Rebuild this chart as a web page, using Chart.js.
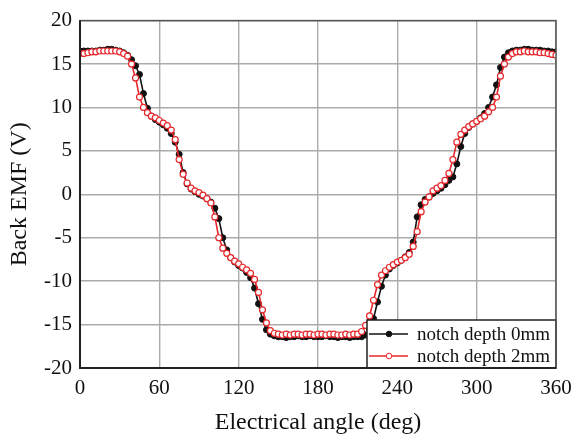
<!DOCTYPE html>
<html>
<head>
<meta charset="utf-8">
<title>Back EMF</title>
<script src="https://cdn.jsdelivr.net/npm/chart.js@4.4.1/dist/chart.umd.min.js"></script>
<style>
  html, body { margin: 0; padding: 0; background: #fff; }
  #wrap { width: 572px; height: 437px; }
</style>
</head>
<body>
<div id="wrap"><canvas id="myChart" width="572" height="437"></canvas></div>
<script>
// electrical angle samples (deg)
var angoli = [
  0, 3, 6, 9, 12, 15, 18, 21, 24, 27, 30, 33, 36, 39, 42, 45, 48, 51, 54, 57,
  60, 63, 66, 69, 72, 75, 78, 81, 84, 87, 90, 93, 96, 99, 102, 105, 108, 111, 114, 117,
  120, 123, 126, 129, 132, 135, 138, 141, 144, 147, 150, 153, 156, 159, 162, 165, 168, 171, 174, 177,
  180, 183, 186, 189, 192, 195, 198, 201, 204, 207, 210, 213, 216, 219, 222, 225, 228, 231, 234, 237,
  240, 243, 246, 249, 252, 255, 258, 261, 264, 267, 270, 273, 276, 279, 282, 285, 288, 291, 294, 297,
  300, 303, 306, 309, 312, 315, 318, 321, 324, 327, 330, 333, 336, 339, 342, 345, 348, 351, 354, 357,
  360
];

// back EMF, notch depth 0mm (V)
var emf0mm = [
  16.5, 16.5, 16.5, 16.5, 16.5, 16.6, 16.6, 16.7, 16.7, 16.6, 16.5, 16.3, 16.0, 15.5, 14.8, 13.8, 11.6, 9.9, 9.0, 8.6,
  8.3, 8.0, 7.6, 7.0, 6.0, 4.6, 2.5, 1.2, 0.6, 0.3, 0.0, -0.2, -0.5, -0.9, -1.6, -2.8, -5.0, -6.4, -7.3, -7.8,
  -8.2, -8.5, -9.0, -9.6, -10.8, -12.6, -14.4, -15.6, -16.1, -16.3, -16.4, -16.4, -16.5, -16.4, -16.4, -16.3, -16.4, -16.4, -16.3, -16.4,
  -16.4, -16.4, -16.3, -16.4, -16.4, -16.5, -16.4, -16.4, -16.5, -16.4, -16.4, -16.4, -16.2, -15.5, -14.3, -12.4, -10.6, -9.3, -8.6, -8.2,
  -7.9, -7.6, -7.2, -6.7, -5.5, -2.6, -1.2, -0.6, -0.3, 0.1, 0.4, 0.7, 1.1, 1.6, 2.0, 3.5, 5.5, 7.0, 7.7, 8.1,
  8.4, 8.8, 9.3, 10.0, 11.2, 12.6, 14.6, 15.8, 16.3, 16.5, 16.6, 16.6, 16.7, 16.7, 16.6, 16.6, 16.6, 16.5, 16.5, 16.4,
  16.4
];

// back EMF, notch depth 2mm (V)
var emf2mm = [
  16.2, 16.2, 16.3, 16.4, 16.4, 16.5, 16.5, 16.5, 16.5, 16.5, 16.4, 16.2, 15.9, 15.0, 13.4, 11.2, 10.0, 9.4, 9.0, 8.8,
  8.5, 8.2, 7.9, 7.4, 6.3, 4.0, 2.3, 1.3, 0.7, 0.4, 0.2, -0.1, -0.5, -1.0, -2.6, -5.0, -6.2, -6.8, -7.3, -7.7,
  -8.0, -8.4, -8.7, -9.1, -9.8, -11.3, -13.3, -14.8, -15.7, -16.0, -16.1, -16.2, -16.1, -16.2, -16.1, -16.1, -16.2, -16.1, -16.1, -16.2,
  -16.1, -16.1, -16.2, -16.1, -16.1, -16.2, -16.2, -16.1, -16.2, -16.1, -16.1, -15.8, -15.1, -14.0, -12.2, -10.4, -9.3, -8.8, -8.4, -8.1,
  -7.8, -7.6, -7.3, -6.9, -6.0, -4.3, -2.0, -0.9, -0.3, 0.4, 0.7, 1.0, 1.6, 2.4, 4.0, 6.0, 6.9, 7.4, 7.8, 8.1,
  8.4, 8.7, 9.0, 9.5, 10.0, 11.2, 13.6, 15.0, 15.8, 16.2, 16.4, 16.4, 16.5, 16.4, 16.4, 16.4, 16.3, 16.3, 16.2, 16.1,
  16.0
];

var etichette = ['notch depth 0mm', 'notch depth 2mm'];
var xTicks = [0, 60, 120, 180, 240, 300, 360];
var yTicks = [-20, -15, -10, -5, 0, 5, 10, 15, 20];

var rosso = 'rgb(230, 40, 44)';
var font = 'Liberation Serif, Times New Roman, serif';

function costruisciPunti(xs, ys) {
    var punti = [];
    for (var i = 0; i < xs.length; i++) {
        punti.push({ x: xs[i], y: ys[i] });
    }
    return punti;
}

// legend box in the lower right corner of the plot, plus the frame
var legendaRiquadro = {
    id: 'legendaRiquadro',
    afterDatasetsDraw: function (chart) {
        var ctx = chart.ctx;
        var a = chart.chartArea;
        var w = 189, h = 48;
        var x0 = a.right - w, y0 = a.bottom - h;
        ctx.save();
        ctx.fillStyle = '#fff';
        ctx.fillRect(x0, y0, w, h);
        ctx.strokeStyle = '#222';
        ctx.lineWidth = 1.5;
        ctx.strokeRect(x0, y0, w, h);

        var righe = [y0 + 14, y0 + 36];
        chart.data.datasets.forEach(function (ds, i) {
            var yy = righe[i];
            ctx.strokeStyle = ds.borderColor;
            ctx.lineWidth = 1.5;
            ctx.beginPath();
            ctx.moveTo(x0 + 2, yy);
            ctx.lineTo(x0 + 41, yy);
            ctx.stroke();
            ctx.beginPath();
            ctx.arc(x0 + 22, yy, 2.8, 0, Math.PI * 2);
            ctx.fillStyle = ds.pointBackgroundColor;
            ctx.fill();
            ctx.strokeStyle = ds.pointBorderColor;
            ctx.lineWidth = 1;
            ctx.stroke();
            ctx.fillStyle = '#111';
            ctx.font = '19px ' + font;
            ctx.textBaseline = 'middle';
            ctx.textAlign = 'left';
            ctx.fillText(ds.label, x0 + 50, yy + 1);
        });

        // plot frame
        ctx.strokeStyle = '#555';
        ctx.lineWidth = 1.5;
        ctx.strokeRect(a.left, a.top, a.right - a.left, a.bottom - a.top);
        ctx.strokeStyle = '#222';
        ctx.lineWidth = 2;
        ctx.beginPath();
        ctx.moveTo(a.left, a.top);
        ctx.lineTo(a.left, a.bottom);
        ctx.lineTo(a.right, a.bottom);
        ctx.stroke();
        ctx.restore();
    }
};

var ctx = document.getElementById('myChart');
var chart = new Chart(ctx, {
    type: 'scatter',
    data: {
        datasets: [{
            label: etichette[0],
            data: costruisciPunti(angoli, emf0mm),
            showLine: true,
            borderColor: '#111',
            borderWidth: 1.6,
            pointRadius: 3,
            pointBackgroundColor: '#111',
            pointBorderColor: '#111',
            pointBorderWidth: 1,
            order: 2
        }, {
            label: etichette[1],
            data: costruisciPunti(angoli, emf2mm),
            showLine: true,
            borderColor: rosso,
            borderWidth: 1.6,
            pointRadius: 3,
            pointBackgroundColor: '#fff',
            pointBorderColor: rosso,
            pointBorderWidth: 1.2,
            order: 1
        }]
    },
    options: {
        responsive: false,
        animation: false,
        layout: { padding: { top: 20, right: 16, left: 0, bottom: 0 } },
        plugins: {
            legend: { display: false },
            tooltip: { enabled: false }
        },
        scales: {
            x: {
                type: 'linear',
                min: 0,
                max: 360,
                afterBuildTicks: function (s) {
                    s.ticks = xTicks.map(function (v) { return { value: v }; });
                },
                afterFit: function (s) {
                    s.height = 69;
                    s.paddingRight = 0;
                    s.paddingLeft = 0;
                },
                grid: { color: '#ababab', lineWidth: 1.4, drawTicks: false },
                border: { display: false },
                ticks: {
                    padding: 8,
                    color: '#111',
                    font: { family: font, size: 21 }
                },
                title: {
                    display: true,
                    text: 'Electrical angle (deg)',
                    color: '#111',
                    font: { family: font, size: 24 },
                    padding: { top: 2, bottom: 0 }
                }
            },
            y: {
                min: -20,
                max: 20,
                afterBuildTicks: function (s) {
                    s.ticks = yTicks.map(function (v) { return { value: v }; });
                },
                afterFit: function (s) { s.width = 80; },
                grid: { color: '#ababab', lineWidth: 1.4, drawTicks: false },
                border: { display: false },
                ticks: {
                    padding: 8,
                    color: '#111',
                    font: { family: font, size: 21 }
                },
                title: {
                    display: true,
                    text: 'Back EMF (V)',
                    color: '#111',
                    font: { family: font, size: 24 },
                    padding: { top: 5, bottom: 0 }
                }
            }
        }
    },
    plugins: [legendaRiquadro]
});
</script>
</body>
</html>
